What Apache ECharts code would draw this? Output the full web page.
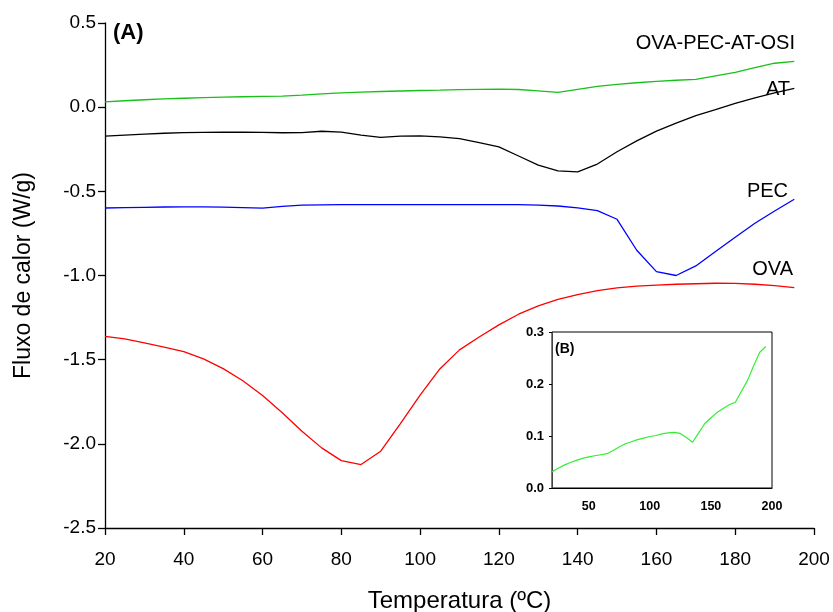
<!DOCTYPE html>
<html>
<head>
<meta charset="utf-8">
<script src="https://cdn.jsdelivr.net/npm/echarts@6/dist/echarts.min.js"></script>
<style>html,body{margin:0;padding:0;background:#fff}#c{width:833px;height:612px}</style>
</head>
<body>
<div id="c"></div>
<script>
var temperature = [20,25,30,35,40,45,50,55,60,65,70,75,80,85,90,95,100,105,110,115,120,125,130,135,140,145,150,155,160,165,170,175,180,185,190,195];
var ovaPecAtOsi = [0.031,0.038,0.044,0.049,0.053,0.057,0.060,0.062,0.064,0.066,0.072,0.079,0.085,0.089,0.093,0.096,0.099,0.101,0.104,0.106,0.107,0.105,0.097,0.088,0.106,0.124,0.135,0.145,0.153,0.160,0.165,0.186,0.207,0.235,0.261,0.272];
var at = [-0.172,-0.166,-0.160,-0.155,-0.151,-0.150,-0.149,-0.149,-0.150,-0.152,-0.151,-0.143,-0.148,-0.166,-0.180,-0.172,-0.170,-0.176,-0.187,-0.210,-0.236,-0.290,-0.344,-0.378,-0.384,-0.338,-0.265,-0.200,-0.142,-0.095,-0.050,-0.015,0.022,0.055,0.085,0.111];
var pec = [-0.599,-0.597,-0.595,-0.593,-0.592,-0.592,-0.594,-0.597,-0.600,-0.589,-0.582,-0.580,-0.579,-0.579,-0.579,-0.579,-0.579,-0.579,-0.579,-0.579,-0.579,-0.579,-0.582,-0.587,-0.598,-0.615,-0.666,-0.850,-0.977,-1.000,-0.943,-0.858,-0.773,-0.690,-0.617,-0.547];
var ova = [-1.362,-1.377,-1.400,-1.425,-1.452,-1.495,-1.553,-1.625,-1.713,-1.815,-1.925,-2.024,-2.100,-2.123,-2.044,-1.880,-1.710,-1.555,-1.442,-1.365,-1.293,-1.230,-1.180,-1.142,-1.113,-1.090,-1.074,-1.063,-1.057,-1.052,-1.049,-1.046,-1.047,-1.052,-1.060,-1.072];
var seriesNames = ['OVA-PEC-AT-OSI','AT','PEC','OVA'];
var insetXTicks = [50,100,150,200];

function pairs(ys){ return temperature.map(function(t,i){ return [t, ys[i]]; }); }
var FONT = '"Liberation Sans", Arial, sans-serif';
var chart = echarts.init(document.getElementById('c'), null, {renderer:'canvas'});
var option = {
  backgroundColor:'#fff',
  animation:false,
  grid:[
    {left:105, top:23, right:19, bottom:84, containLabel:false, outerBoundsMode:'none'},
    {left:552, top:332, right:61, bottom:124, containLabel:false, outerBoundsMode:'none', show:true, backgroundColor:'#fff', borderColor:'#000', borderWidth:1, z:5}
  ],
  xAxis:[
    {gridIndex:0, type:'value', min:20, max:200, interval:20,
     name:'Temperatura (ºC)', nameLocation:'middle', nameGap:61,
     nameTextStyle:{fontFamily:FONT, fontSize:24, color:'#000'},
     axisLine:{onZero:false, lineStyle:{color:'#000', width:1.3}},
     axisTick:{show:true, length:7, lineStyle:{color:'#000', width:1.3}},
     axisLabel:{fontFamily:FONT, fontSize:19, color:'#000', margin:22},
     splitLine:{show:false}},
    {gridIndex:1, type:'value', min:20, max:200,
     axisLine:{onZero:false, lineStyle:{color:'#000', width:1}},
     axisTick:{show:false, customValues:insetXTicks},
     axisLabel:{fontFamily:FONT, fontSize:12.5, fontWeight:'bold', color:'#000', margin:12, customValues:insetXTicks},
     splitLine:{show:false}, z:6}
  ],
  yAxis:[
    {gridIndex:0, type:'value', min:-2.5, max:0.5, interval:0.5,
     name:'Fluxo de calor (W/g)', nameLocation:'middle', nameGap:70, nameRotate:90,
     nameTextStyle:{fontFamily:FONT, fontSize:23, color:'#000'},
     axisLine:{show:true, onZero:false, lineStyle:{color:'#000', width:1.3}},
     axisTick:{show:true, length:7, lineStyle:{color:'#000', width:1.3}},
     axisLabel:{fontFamily:FONT, fontSize:19, color:'#000', margin:9, formatter:function(v){return v.toFixed(1);}},
     splitLine:{show:false}},
    {gridIndex:1, type:'value', min:0, max:0.3, interval:0.1,
     axisLine:{show:true, onZero:false, lineStyle:{color:'#444', width:1}},
     axisTick:{show:true, length:3, lineStyle:{color:'#000'}},
     axisLabel:{fontFamily:FONT, fontSize:13, fontWeight:'bold', color:'#000', margin:8, formatter:function(v){return v.toFixed(1);}},
     splitLine:{show:false}, z:6}
  ],
  series:[
    {name:seriesNames[0], type:'line', xAxisIndex:0, yAxisIndex:0, data:pairs(ovaPecAtOsi), showSymbol:false, lineStyle:{color:'#19c019', width:1.3}},
    {name:seriesNames[1], type:'line', xAxisIndex:0, yAxisIndex:0, data:pairs(at), showSymbol:false, lineStyle:{color:'#000', width:1.3}},
    {name:seriesNames[2], type:'line', xAxisIndex:0, yAxisIndex:0, data:pairs(pec), showSymbol:false, lineStyle:{color:'#0000ff', width:1.3}},
    {name:seriesNames[3], type:'line', xAxisIndex:0, yAxisIndex:0, data:pairs(ova), showSymbol:false, lineStyle:{color:'#ff0000', width:1.3}},
    {name:seriesNames[0]+' (B)', type:'line', xAxisIndex:1, yAxisIndex:1, data:pairs(ovaPecAtOsi), showSymbol:false, z:7, lineStyle:{color:'#33ee33', width:1.2}}
  ],
  graphic:[
    {type:'text', left:113, top:22, z:10, style:{text:'(A)', fontFamily:FONT, fontSize:22, fontWeight:'bold', fill:'#000'}},
    {type:'text', left:555, top:342, z:10, style:{text:'(B)', fontFamily:FONT, fontSize:14, fontWeight:'bold', fill:'#000'}},
    {type:'text', right:38, top:33, z:10, style:{text:seriesNames[0], fontFamily:FONT, fontSize:20, fill:'#000'}},
    {type:'text', right:43, top:79, z:10, style:{text:seriesNames[1], fontFamily:FONT, fontSize:20, fill:'#000'}},
    {type:'text', right:45, top:181, z:10, style:{text:seriesNames[2], fontFamily:FONT, fontSize:20, fill:'#000'}},
    {type:'text', right:40, top:259, z:10, style:{text:seriesNames[3], fontFamily:FONT, fontSize:20, fill:'#000'}}
  ]
};
chart.setOption(option);
</script>
</body>
</html>
